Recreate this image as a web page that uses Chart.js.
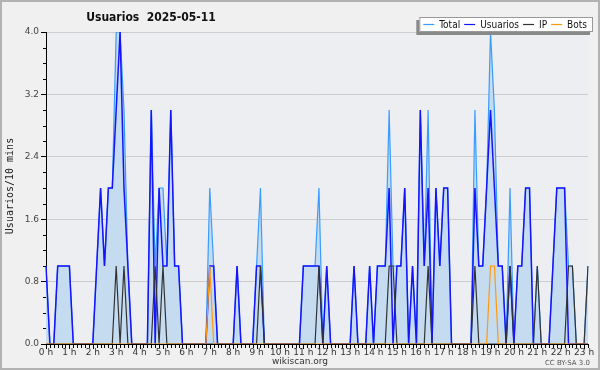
<!DOCTYPE html>
<html>
<head>
<meta charset="utf-8">
<script src="https://cdn.jsdelivr.net/npm/chart.js@4/dist/chart.umd.min.js"></script>
<style>
html, body { margin: 0; padding: 0; background: #f0f0f0; }
canvas { display: block; }
</style>
</head>
<body>
<canvas id="chart" width="600" height="370"></canvas>
<script>
// 10 minute slots, 0:00 -> 23:10
var hourLabels = ['0 h','1 h','2 h','3 h','4 h','5 h','6 h','7 h','8 h','9 h','10 h','11 h',
  '12 h','13 h','14 h','15 h','16 h','17 h','18 h','19 h','20 h','21 h','22 h','23 h'];

var total = [
  1,0,0,1,1,1,  1,0,0,0,0,0,  0,1,2,1,2,2,  4,4,3,1,0,0,
  0,0,0,3,1,2,  2,1,3,1,1,0,  0,0,0,0,0,0,  2,1,0,0,0,0,
  0,1,0,0,0,0,  1,2,0,0,0,0,  0,0,0,0,0,0,  1,1,1,1,2,0,
  1,0,0,0,0,0,  0,1,0,0,0,1,  0,1,1,1,3,1,  1,1,2,0,1,0,
  3,1,3,0,2,1,  2,2,0,0,0,0,  0,0,3,1,1,2,  4,3,1,1,0,2,
  0,1,1,2,2,0,  1,0,0,0,1,2,  2,2,1,1,0,0,  0,1
];
var usuarios = [
  1,0,0,1,1,1,  1,0,0,0,0,0,  0,1,2,1,2,2,  3,4,2,1,0,0,
  0,0,0,3,0,2,  1,1,3,1,1,0,  0,0,0,0,0,0,  1,1,0,0,0,0,
  0,1,0,0,0,0,  1,1,0,0,0,0,  0,0,0,0,0,0,  1,1,1,1,1,0,
  1,0,0,0,0,0,  0,1,0,0,0,1,  0,1,1,1,2,0,  1,1,2,0,1,0,
  3,1,2,0,2,1,  2,2,0,0,0,0,  0,0,2,1,1,2,  3,2,1,1,0,1,
  0,1,1,2,2,0,  0,0,0,0,1,2,  2,2,0,0,0,0,  0,0
];
var ip = [
  0,0,0,0,0,0,  0,0,0,0,0,0,  0,0,0,0,0,0,  1,0,1,0,0,0,
  0,0,0,0,1,0,  1,0,0,0,0,0,  0,0,0,0,0,0,  0,0,0,0,0,0,
  0,0,0,0,0,0,  0,1,0,0,0,0,  0,0,0,0,0,0,  0,0,0,0,1,0,
  0,0,0,0,0,0,  0,0,0,0,0,0,  0,0,0,0,1,1,  0,0,0,0,0,0,
  0,0,1,0,0,0,  0,0,0,0,0,0,  0,0,1,0,0,0,  0,0,0,0,0,1,
  0,0,0,0,0,0,  1,0,0,0,0,0,  0,0,1,1,0,0,  0,1
];
var bots = [
  0,0,0,0,0,0,  0,0,0,0,0,0,  0,0,0,0,0,0,  0,0,0,0,0,0,
  0,0,0,0,0,0,  0,0,0,0,0,0,  0,0,0,0,0,0,  1,0,0,0,0,0,
  0,0,0,0,0,0,  0,0,0,0,0,0,  0,0,0,0,0,0,  0,0,0,0,0,0,
  0,0,0,0,0,0,  0,0,0,0,0,0,  0,0,0,0,0,0,  0,0,0,0,0,0,
  0,0,0,0,0,0,  0,0,0,0,0,0,  0,0,0,0,0,0,  1,1,0,0,0,0,
  0,0,0,0,0,0,  0,0,0,0,0,0,  0,0,0,0,0,0,  0,0
];

var slots = [];
for (var h = 0; h < 24; h++) {
  for (var m = 0; m < 60; m += 10) {
    if (slots.length < total.length) slots.push(h + ':' + (m < 10 ? '0' : '') + m);
  }
}

var FONT = '"DejaVu Sans Condensed", "DejaVu Sans", sans-serif';

var frame = {
  id: 'frame',
  beforeDraw: function(chart) {
    var c = chart.ctx, a = chart.chartArea;
    c.save();
    c.fillStyle = '#f0f0f0';
    c.fillRect(0, 0, 600, 370);
    c.strokeStyle = '#b2b2b2';
    c.lineWidth = 2;
    c.strokeRect(1, 1, 598, 368);
    c.fillStyle = '#eceef1';
    c.fillRect(a.left, a.top, a.right - a.left, a.bottom - a.top);
    c.restore();
  },
  afterDraw: function(chart) {
    var c = chart.ctx, a = chart.chartArea;
    var xs = chart.scales.x, ys = chart.scales.y;
    c.save();
    c.strokeStyle = '#000';
    c.lineWidth = 1;
    c.beginPath();
    // minor y ticks
    for (var k = 0; k <= 20; k++) {
      if (k % 4 === 0) continue;
      var y = Math.round(ys.getPixelForValue(k * 0.2)) + 0.5;
      c.moveTo(a.left - 3, y);
      c.lineTo(a.left, y);
    }
    // x ticks every slot
    for (var i = 0; i < slots.length; i++) {
      var x = Math.round(xs.getPixelForValue(i)) + 0.5;
      c.moveTo(x, a.bottom);
      c.lineTo(x, a.bottom + (i % 6 === 0 ? 5 : 4));
    }
    c.stroke();

    // title
    c.fillStyle = '#111';
    c.font = 'bold 12px ' + FONT;
    c.textAlign = 'center';
    c.textBaseline = 'alphabetic';
    c.fillText('Usuarios  2025-05-11', 151, 21);

    // y axis title
    c.save();
    c.translate(10, 186);
    c.rotate(-Math.PI / 2);
    c.font = '10px "DejaVu Sans Mono", monospace';
    c.textBaseline = 'middle';
    c.fillStyle = '#222';
    c.fillText('Usuarios/10 mins', 0, 0);
    c.restore();

    // footer
    c.font = '9px "DejaVu Sans", sans-serif';
    c.fillStyle = '#333';
    c.textAlign = 'center';
    c.fillText('wikiscan.org', 300, 364);
    c.font = '7px "DejaVu Sans", sans-serif';
    c.fillStyle = '#555';
    c.textAlign = 'right';
    c.fillText('CC BY-SA 3.0', 590, 365);

    // legend box with shadow
    c.font = '10px ' + FONT;
    var sets = chart.data.datasets;
    var w = 4;
    sets.forEach(function(d) { w += 11 + 5 + c.measureText(d.label).width + 4; });
    w += 2;
    var bx = 593 - w, by = 17, bh = 15;
    c.fillStyle = '#888';
    c.fillRect(bx - 3, by + 3, w, bh);
    c.fillStyle = '#fff';
    c.fillRect(bx, by, w, bh);
    c.strokeStyle = '#999';
    c.strokeRect(bx + 0.5, by + 0.5, w - 1, bh - 1);
    var lx = bx + 4;
    c.textAlign = 'left';
    c.textBaseline = 'middle';
    sets.forEach(function(d) {
      c.strokeStyle = d.borderColor;
      c.lineWidth = 1.2;
      c.beginPath();
      c.moveTo(lx, by + 7.5);
      c.lineTo(lx + 11, by + 7.5);
      c.stroke();
      lx += 16;
      c.fillStyle = '#111';
      c.fillText(d.label, lx, by + 8);
      lx += c.measureText(d.label).width + 4;
    });
    c.restore();
  }
};

var data = {
  labels: slots,
  datasets: [
    {
      label: 'Total',
      data: total,
      borderColor: '#3a9cff',
      backgroundColor: '#c4dbf0',
      borderWidth: 1.2,
      fill: 'origin',
      order: 4
    },
    {
      label: 'Usuarios',
      data: usuarios,
      borderColor: '#1414ff',
      borderWidth: 1.5,
      fill: false,
      order: 3
    },
    {
      label: 'IP',
      data: ip,
      borderColor: '#333333',
      borderWidth: 1.2,
      fill: false,
      order: 2
    },
    {
      label: 'Bots',
      data: bots,
      borderColor: '#ff9a10',
      borderWidth: 1.2,
      fill: false,
      order: 1
    }
  ]
};

var options = {
  responsive: false,
  animation: false,
  events: [],
  layout: { padding: { left: 0, right: 12, top: 32, bottom: 0 } },
  elements: { point: { radius: 0 }, line: { tension: 0 } },
  plugins: { legend: { display: false }, tooltip: { enabled: false }, title: { display: false } },
  scales: {
    x: {
      type: 'category',
      offset: false,
      grid: { display: false, drawTicks: false },
      border: { display: true, color: '#000', width: 1 },
      ticks: {
        autoSkip: false,
        maxRotation: 0,
        minRotation: 0,
        padding: 3,
        color: '#333',
        font: { family: 'DejaVu Sans', size: 9 },
        callback: function(v, i) { return i % 6 === 0 ? hourLabels[i / 6] : ''; }
      },
      afterFit: function(s) { s.height = 26; }
    },
    y: {
      min: 0,
      max: 4,
      grid: { color: '#cdcdcd', tickColor: '#000', tickLength: 5 },
      border: { display: true, color: '#000', width: 1 },
      ticks: {
        stepSize: 0.8,
        padding: 2,
        color: '#444',
        font: { family: 'DejaVu Sans', size: 9 },
        callback: function(v) { return Number(v).toFixed(1); }
      },
      afterFit: function(s) { s.width = 46; }
    }
  }
};

var ctx = document.getElementById('chart').getContext('2d');
var myChart = new Chart(ctx, {
  type: 'line',
  data: data,
  options: options,
  plugins: [frame]
});
</script>
</body>
</html>
